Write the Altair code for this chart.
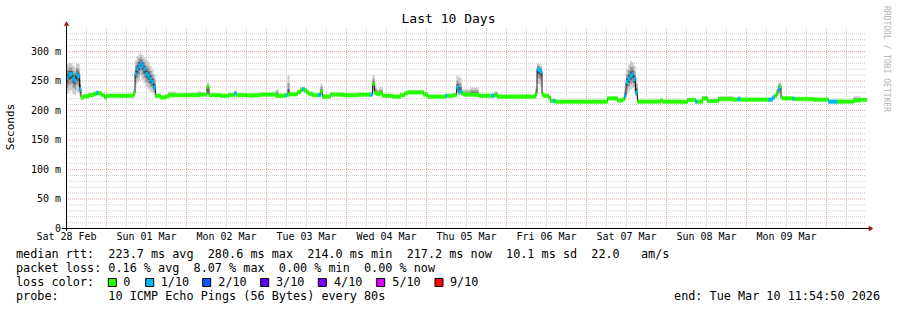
import altair as alt
import pandas as pd

# ---------------- data ----------------
# sample start, hours after the graph start (Sat 28 Feb ~noon); each sample lasts until the next
hours = [0, 0.6, 1.2, 1.8, 2.4, 2.85, 3.3, 3.9, 4.35, 5.1, 6.6, 8.1, 9.0, 9.6, 10.5, 11.4, 12.0,
         20.1, 20.55, 21.0, 21.6, 22.05, 22.5, 23.1, 23.7, 24.3, 24.9, 25.5, 26.1, 26.7, 28.2, 29.7,
         30.6, 32.7, 37.2, 39.3, 40.2, 42.15, 42.75, 46.2, 48.6, 50.4, 51.0, 54.0, 56.4, 58.2, 62.7,
         63.6, 65.7, 66.3, 66.9, 69.3, 70.2, 70.8, 71.4, 72.0, 72.6, 73.8, 75.6, 76.2, 76.8, 79.2,
         83.1, 87.3, 91.2, 91.8, 92.4, 93.0, 93.9, 94.8, 97.8, 100.2, 101.4, 102.3, 107.1, 108.3,
         113.7, 114.3, 116.1, 117.0, 117.6, 118.5, 119.1, 121.2, 123.6, 127.5, 128.4, 129.3, 140.7,
         141.15, 141.75, 142.2, 142.65, 143.1, 144.6, 145.2, 146.1, 146.7, 162.3, 165.3, 166.8,
         167.4, 167.85, 168.45, 169.05, 169.65, 170.1, 170.7, 171.3, 178.2, 178.8, 184.2, 186.3,
         188.7, 189.3, 190.8, 192.3, 195.6, 200.1, 201.3, 202.2, 210.6, 211.8, 212.4, 213.0, 213.45,
         213.9, 214.35, 214.8, 217.8, 218.4, 224.1, 228.6, 231.3, 236.1, 238.2]
END_H = 240

median_ms = [255, 261, 262, 254, 251, 262, 258, 236, 222, 224, 226, 228, 230, 229, 226, 222, 225,
             229, 262, 270, 276, 281, 276, 270, 262, 259, 253, 248, 239, 225, 222, 224,
             226, 226, 226, 226, 227, 240, 226, 225, 226, 229, 226, 225.5, 226, 227, 225,
             225, 226, 227, 227.5, 231, 235, 236, 234, 231, 228, 226, 226, 232, 223.5, 227,
             225.8, 226.8, 227, 245, 230, 228, 229, 225, 223.5, 226, 229, 230.7, 227, 223.5,
             225, 225, 226, 239, 232, 229, 227, 226.8, 225, 225, 226, 223.5, 228,
             270, 268, 266, 227, 225, 222, 216, 216, 215, 220.6, 217, 219,
             225, 248, 254, 259, 262, 253, 230, 215, 217, 215, 214.5, 218,
             215, 215, 220.6, 216, 219.4, 218.5, 219, 218.4, 218.4, 222, 225, 230, 236.5,
             241, 222, 220.6, 220, 219.4, 218.4, 215, 215, 217, 218]

smoke_lo = [228, 232, 234, 228, 226, 232, 230, 224, 220, 222, 224, 225, 226, 226, 224, 220, 223,
            224, 240, 246, 250, 258, 252, 246, 240, 236, 232, 230, 226, 222, 220, 222,
            224, 224, 224, 224, 225, 228, 224, 223, 224, 226, 224, 224, 224, 225, 223,
            223, 224, 225, 225, 228, 231, 232, 230, 228, 226, 224, 224, 226, 222, 225,
            224, 225, 225, 228, 226, 225, 226, 223, 222, 224, 226, 228, 225, 222,
            223, 223, 224, 226, 226, 226, 225, 225, 223, 223, 224, 222, 222,
            245, 244, 240, 224, 223, 220, 214, 214, 213, 219, 215, 217,
            218, 228, 232, 236, 238, 232, 222, 213, 215, 213, 213, 216,
            213, 213, 218, 214, 217, 217, 217, 217, 217, 219, 221, 224, 225,
            228, 219, 219, 218, 218, 217, 213, 213, 215, 216]

smoke_hi = [278, 281, 280, 276, 272, 280, 279, 262, 226, 227, 229, 232, 233, 232, 229, 225, 228,
            236, 284, 292, 296, 297, 294, 290, 286, 282, 276, 270, 262, 228, 225, 227,
            232, 229, 230, 233, 230, 247, 229, 228, 230, 232, 229, 228, 229, 230, 236,
            228, 229, 259, 231, 235, 240, 240, 238, 235, 232, 229, 230, 246, 227, 230,
            229, 230, 230, 260, 243, 236, 240, 228, 226, 229, 232, 234, 230, 226,
            228, 228, 229, 259, 256, 236, 236, 239, 228, 229, 233, 226, 240,
            280, 279, 276, 232, 228, 225, 219, 219, 218, 223, 220, 222,
            240, 270, 278, 284, 282, 276, 256, 218, 220, 218, 217, 221,
            218, 218, 224, 219, 224, 221, 224, 221, 221, 225, 229, 236, 246,
            248, 226, 223, 223, 222, 221, 218, 218, 224, 221]

# packets lost out of 10 in each sample
loss_tenths = [1, 1, 1, 1, 1, 1, 1, 1, 0, 0, 0, 0, 1, 0, 0, 0, 0,
               0, 1, 1, 1, 1, 1, 1, 1, 1, 1, 1, 1, 0, 0, 0,
               0, 0, 0, 0, 0, 0, 0, 0, 0, 1, 0, 0, 0, 0, 0,
               0, 1, 0, 0, 0, 0, 1, 0, 0, 0, 0, 1, 0, 0, 0,
               0, 0, 1, 0, 0, 0, 0, 0, 0, 0, 0, 0, 0, 0,
               1, 0, 0, 1, 1, 0, 0, 0, 0, 1, 0, 0, 0,
               1, 1, 1, 0, 0, 0, 0, 1, 0, 0, 0, 0,
               1, 1, 1, 1, 1, 1, 1, 0, 0, 0, 0, 0,
               1, 0, 0, 0, 0, 0, 1, 0, 1, 1, 0, 0, 1,
               0, 0, 0, 1, 0, 0, 1, 0, 0, 0]

day_labels = ["Sat 28 Feb", "Sun 01 Mar", "Mon 02 Mar", "Tue 03 Mar", "Wed 04 Mar",
              "Thu 05 Mar", "Fri 06 Mar", "Sat 07 Mar", "Sun 08 Mar", "Mon 09 Mar"]
day_label_hours = [0, 24, 48, 72, 96, 120, 144, 168, 192, 216]
midnight_hours = [12, 36, 60, 84, 108, 132, 156, 180, 204, 228]
six_hour_hours = [h for h in range(6, 240, 6) if h not in midnight_hours]

y_tick_values = [0, 50, 100, 150, 200, 250, 300]
y_tick_labels = ["0 ", "50 m", "100 m", "150 m", "200 m", "250 m", "300 m"]
y_minor_values = [v for v in range(10, 340, 10) if v % 50 != 0]
y_major_values = [50, 100, 150, 200, 250, 300]

loss_legend_labels = ["0", "1/10", "2/10", "3/10", "4/10", "5/10", "9/10"]
loss_legend_values = [0, 1, 2, 3, 4, 5, 9]
loss_legend_colors = ["#26ff00", "#00b8ff", "#0059ff", "#5e00ff", "#7e00ff", "#dd00ff", "#ff0000"]

title_text = "Last 10 Days"
y_title = "Seconds"
credit_text = "RRDTOOL / TOBI OETIKER"
line_median = "median rtt:  223.7 ms avg  280.6 ms max  214.0 ms min  217.2 ms now  10.1 ms sd  22.0   am/s"
line_loss = "packet loss: 0.16 % avg  8.07 % max  0.00 % min  0.00 % now"
line_color = "loss color:"
line_probe = "probe:       10 ICMP Echo Pings (56 Bytes) every 80s"
end_text = "end: Tue Mar 10 11:54:50 2026"


def keep_spaces(s):
    # SVG collapses runs of spaces; non-breaking spaces keep the monospace layout
    return s.replace(" ", "\u00a0")


# ---------------- frames ----------------
samples = pd.DataFrame({
    "h": hours, "h2": hours[1:] + [END_H], "med": median_ms,
    "lo": smoke_lo, "hi": smoke_hi, "loss": loss_tenths,
})
last = samples.iloc[[-1]].copy()
last["h"] = END_H
steps = pd.concat([samples, last], ignore_index=True)

FONT = "DejaVu Sans Mono"
LEG = 11.8
xs = alt.Scale(domain=[0, END_H], range=[0.5, 800.5], nice=False, zero=False)
ys = alt.Scale(domain=[0, 300], range=[200.5, 23.5], nice=False, zero=False)
loss_scale = alt.Scale(domain=loss_legend_values, range=loss_legend_colors)
one = pd.DataFrame({"k": [0]})


def vgrid(vals, color):
    return alt.Chart(pd.DataFrame({"h": vals})).mark_rule(
        color=color, strokeDash=[1, 1], strokeWidth=1
    ).encode(x=alt.X("h:Q", scale=xs, axis=None), y=alt.value(0), y2=alt.value(200))


def hgrid(vals, color):
    return alt.Chart(pd.DataFrame({"v": vals})).mark_rule(
        color=color, strokeDash=[1, 1], strokeWidth=1
    ).encode(y=alt.Y("v:Q", scale=ys, axis=None), x=alt.value(0), x2=alt.value(800))


def txt(s, x, y, size=LEG, align="left", angle=0, color="#000000"):
    return alt.Chart(one).mark_text(
        text=keep_spaces(s), align=align, baseline="middle", font=FONT, fontSize=size,
        angle=angle, color=color
    ).encode(x=alt.value(x), y=alt.value(y))


def smoke(frac, color):
    return alt.Chart(steps).transform_calculate(
        slo=f"datum.med - (datum.med - datum.lo) * {frac}",
        shi=f"datum.med + (datum.hi - datum.med) * {frac}",
    ).mark_area(interpolate="step-after", color=color).encode(
        x=alt.X("h:Q", scale=xs, axis=None),
        y=alt.Y("slo:Q", scale=ys, axis=None), y2="shi:Q")


layers = [
    hgrid(y_minor_values, "#cfcfcf"),
    vgrid(six_hour_hours, "#cfcfcf"),
    hgrid(y_major_values, "#f2a0a0"),
    vgrid(midnight_hours, "#f2a0a0"),
    smoke(1.0, "#cccccc"),
    smoke(0.6, "#999999"),
    smoke(0.3, "#555555"),
]

# median connecting line
layers.append(alt.Chart(steps).mark_line(interpolate="step-after", color="#202020", strokeWidth=1).encode(
    x=alt.X("h:Q", scale=xs, axis=None), y=alt.Y("med:Q", scale=ys, axis=None)))
# median boxes coloured by loss
layers.append(alt.Chart(samples).transform_calculate(
    blo="datum.med - 3", bhi="datum.med + 3"
).mark_rect(strokeWidth=0.5).encode(
    x=alt.X("h:Q", scale=xs, axis=None), x2="h2:Q",
    y=alt.Y("blo:Q", scale=ys, axis=None), y2="bhi:Q",
    fill=alt.Fill("loss:N", scale=loss_scale, legend=None),
    stroke=alt.Stroke("loss:N", scale=loss_scale, legend=None)))

# axes lines
layers.append(alt.Chart(one).mark_rule(color="#000000", strokeWidth=1).encode(
    x=alt.value(0.5), y=alt.value(-2), y2=alt.value(203)))
layers.append(alt.Chart(one).mark_rule(color="#000000", strokeWidth=1).encode(
    x=alt.value(-4), x2=alt.value(803), y=alt.value(200.5)))
layers.append(alt.Chart(one).mark_point(shape="triangle-up", filled=True, size=28, color="#a01010", opacity=1).encode(
    x=alt.value(0.5), y=alt.value(-4.5)))
layers.append(alt.Chart(one).mark_point(shape="triangle-right", filled=True, size=28, color="#a01010", opacity=1).encode(
    x=alt.value(805), y=alt.value(200.5)))

# axis labels
layers.append(alt.Chart(pd.DataFrame({"h": day_label_hours, "t": day_labels})).mark_text(
    align="center", baseline="middle", font=FONT, fontSize=10, color="#000000").encode(
    x=alt.X("h:Q", scale=xs, axis=None), y=alt.value(209), text="t:N"))
layers.append(alt.Chart(pd.DataFrame({"v": y_tick_values,
                                      "t": [keep_spaces(t) for t in y_tick_labels]})).mark_text(
    align="right", baseline="middle", font=FONT, fontSize=10, color="#000000").encode(
    y=alt.Y("v:Q", scale=ys, axis=None), x=alt.value(-5), text="t:N"))

# texts
layers.append(txt(title_text, 382.5, -9, size=13, align="center"))
layers.append(txt(y_title, -55, 99, size=11, align="center", angle=270))
layers.append(txt(credit_text, 820, 31, size=8, align="center", angle=90, color="#b4b4b4"))
layers.append(txt(line_median, -50, 226))
layers.append(txt(line_loss, -50, 240))
layers.append(txt(line_color, -50, 254))
layers.append(txt(line_probe, -50, 268))
layers.append(txt(end_text, 814, 268, align="right"))

sq_x = [42.3, 79.7, 136.7, 194.7, 252.3, 310.7, 369]
lab_x = [57.3, 94.7, 152.3, 210, 268, 326.3, 384]
for lbl, col, sx, lx in zip(loss_legend_labels, loss_legend_colors, sq_x, lab_x):
    layers.append(alt.Chart(one).mark_rect(color=col, stroke="#000000", strokeWidth=1).encode(
        x=alt.value(sx), x2=alt.value(sx + 8), y=alt.value(250.5), y2=alt.value(258.5)))
    layers.append(txt(lbl, lx, 254))

chart = alt.layer(*layers).properties(
    width=800, height=200,
    autosize=alt.AutoSizeParams(type="none"),
    padding={"left": 66, "top": 28, "right": 31, "bottom": 82},
    background="#ffffff",
).configure_view(strokeWidth=0)

chart.save("out.html", embed_options={"renderer": "svg", "actions": False})
